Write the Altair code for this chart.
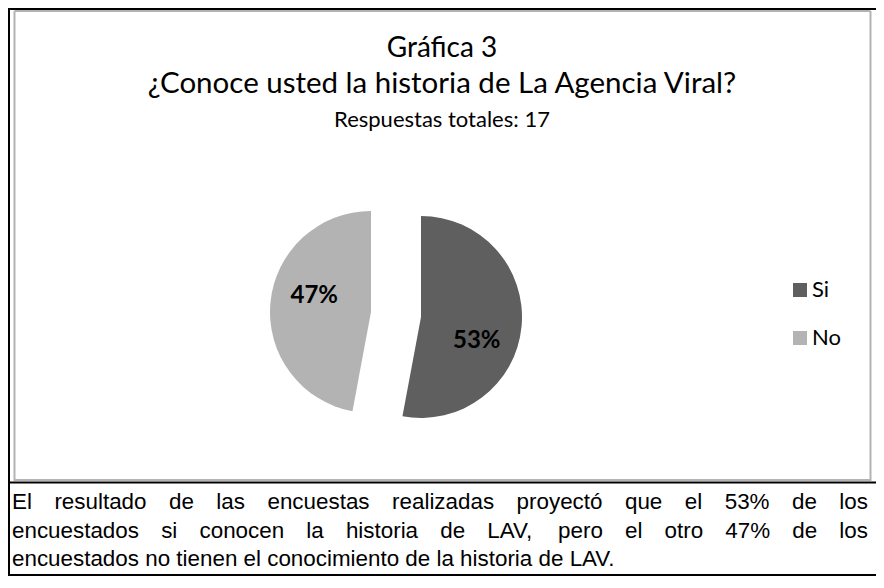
import altair as alt
import pandas as pd

# ---- data ----
respuestas = ["Si", "No"]
conteos = [9, 8]
colores = ["#5f5f5f", "#b3b3b3"]

titulo = "Gráfica 3"
pregunta = "¿Conoce usted la historia de La Agencia Viral?"
subtitulo = "Respuestas totales: 17"
parrafo = [
    "El resultado de las encuestas realizadas proyectó que el 53% de los",
    "encuestados si conocen la historia de LAV, pero el otro 47% de los",
    "encuestados no tienen el conocimiento de la historia de LAV.",
]

W, H = 868, 568
FONT_T = "Lato"
FONT_P = "Liberation Sans"
P_SIZE = 22.4

# Arial / Liberation Sans advance widths (per 1000 em) for justification
AW = {" ": 278, "E": 667, "L": 556, "A": 667, "V": 667, "l": 222, "r": 333,
      "e": 556, "s": 500, "u": 556, "t": 278, "a": 556, "d": 556, "o": 556,
      "n": 556, "c": 500, "z": 500, "i": 222, "p": 556, "y": 500, "ó": 556,
      "q": 556, "h": 556, "m": 833, "%": 889, ",": 278, ".": 278, "g": 556,
      "f": 278, "k": 500, "v": 500, "b": 556, "j": 222, "w": 722, "x": 500}
for d in "0123456789":
    AW[d] = 556


def tw(s):
    return sum(AW.get(ch, 556) for ch in s) * P_SIZE / 1000.0


def layout_paragraph(lines, left, right, baselines):
    rows = []
    for k, line in enumerate(lines):
        if k < len(lines) - 1:
            words = line.split(" ")
            gap = (right - left - sum(tw(w) for w in words)) / (len(words) - 1)
            x = left
            for w in words:
                rows.append({"texto": w, "px": x, "py": baselines[k]})
                x += tw(w) + gap
        else:
            rows.append({"texto": line, "px": left, "py": baselines[k]})
    return pd.DataFrame(rows)


df = pd.DataFrame({"respuesta": respuestas, "conteo": conteos})
one = pd.DataFrame({"a": [0]})


def rule(x1, y1, x2, y2, color, width):
    return alt.Chart(one).mark_rule(color=color, strokeWidth=width).encode(
        x=alt.value(x1), x2=alt.value(x2), y=alt.value(y1), y2=alt.value(y2))


base = alt.Chart(df).transform_joinaggregate(
    total="sum(conteo)"
).transform_calculate(
    pct="datum.conteo / datum.total",
    orden="indexof(['Si','No'], datum.respuesta)",
)

theta = alt.Theta("conteo:Q", stack=True)
order = alt.Order("orden:Q")
color = alt.Color(
    "respuesta:N",
    scale=alt.Scale(domain=respuestas, range=colores),
    sort=respuestas,
    legend=alt.Legend(
        orient="none", legendX=781, legendY=271, title=None,
        symbolType="square", symbolSize=196, symbolStrokeWidth=0,
        labelFont=FONT_T, labelFontSize=22, labelColor="black",
        rowPadding=26, labelOffset=1, padding=0,
    ),
)

centers = {"Si": (413, 309), "No": (363, 304)}
label_pos = {"Si": (56, 19), "No": (57, -11)}

layers = []
# gray chart box
G = "#b3b3b3"
BOX_B = 472
layers += [
    rule(6.5, 3, 6.5, BOX_B + 1, G, 2),
    rule(862.5, 3, 862.5, BOX_B + 1, G, 2),
    rule(6.5, 3, 862.5, 3, G, 2),
    rule(6.5, BOX_B, 862.5, BOX_B, G, 2),
]
# black outer frame
layers += [
    rule(1, 0, 1, H, "black", 2),
    rule(0, 1, W, 1, "black", 2),
    rule(0, BOX_B + 2.5, W, BOX_B + 2.5, "black", 2),
    rule(0, H - 1, W, H - 1, "black", 2),
]

for s in respuestas:
    cx, cy = centers[s]
    op = alt.condition(alt.datum.respuesta == s, alt.value(1), alt.value(0))
    layers.append(
        base.mark_arc(radius=101, x=cx, y=cy).encode(
            theta=theta, color=color, order=order, opacity=op)
    )

for s in respuestas:
    cx, cy = centers[s]
    r, dy = label_pos[s]
    op = alt.condition(alt.datum.respuesta == s, alt.value(1), alt.value(0))
    layers.append(
        base.mark_text(radius=r, x=cx, y=cy, yOffset=dy, font=FONT_T,
                       fontWeight="bold", fontSize=24, color="black",
                       align="center", baseline="middle").encode(
            theta=theta, order=order, opacity=op,
            text=alt.Text("pct:Q", format=".0%"))
    )


def title_text(txt, y, size):
    return alt.Chart(pd.DataFrame({"texto": [txt]})).mark_text(
        font=FONT_T, fontSize=size, color="black", align="center",
        baseline="alphabetic").encode(
        text="texto:N", x=alt.value(434), y=alt.value(y))


layers += [
    title_text(titulo, 49, 28),
    title_text(pregunta, 85, 29.5),
    title_text(subtitulo, 118.5, 22),
]

pdf = layout_paragraph(parrafo, 4, 860, [501, 530, 558])
layers.append(
    alt.Chart(pdf).mark_text(font=FONT_P, fontSize=P_SIZE, color="black",
                             align="left", baseline="alphabetic").encode(
        text="texto:N",
        x=alt.X("px:Q", scale=None, axis=None),
        y=alt.Y("py:Q", scale=None, axis=None),
    )
)

chart = alt.layer(*layers).properties(
    width=W, height=H, autosize="none", padding=0, background="white"
).configure_view(stroke=None)

chart.save("out.html", embed_options={"renderer": "svg", "actions": False})
